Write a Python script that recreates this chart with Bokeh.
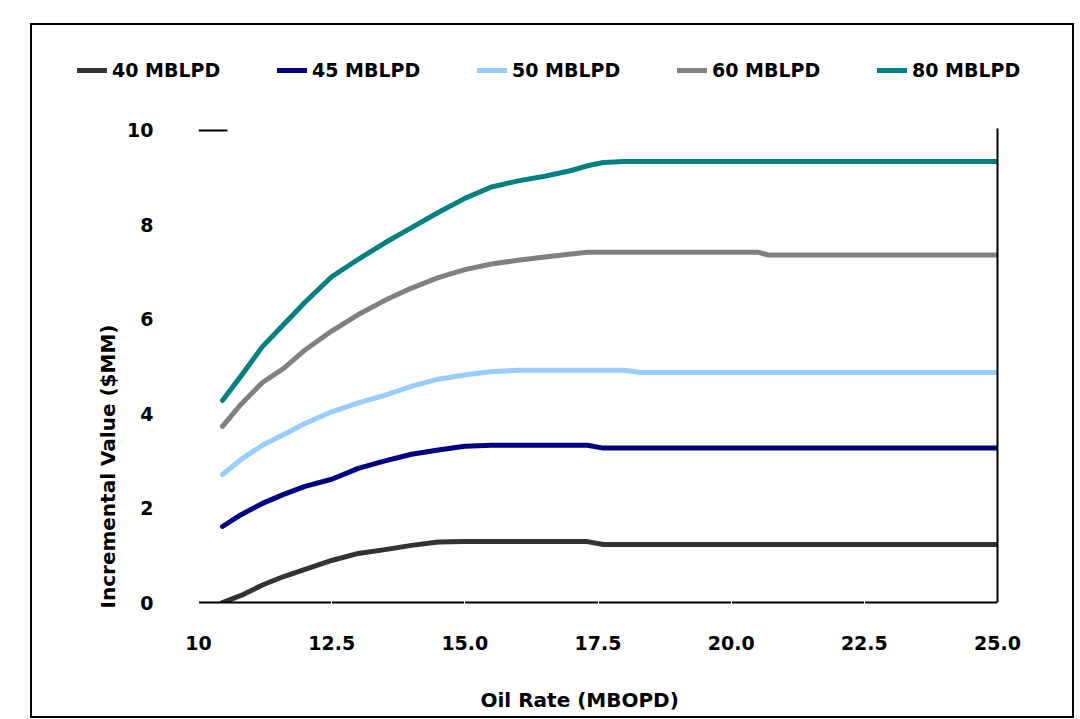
from bokeh.plotting import figure
from bokeh.layouts import column, row
from bokeh.models import (Range1d, FixedTicker, Legend, LegendItem, Title, Label,
                          LinearAxis)
from bokeh.embed import file_html
from bokeh.resources import INLINE

# ---- data ----
oil_rate = [10.45, 10.8, 11.2, 11.6, 12.0, 12.5, 13.0, 13.5, 14.0, 14.5, 15.0,
            15.5, 16.0, 16.5, 17.0, 17.3, 17.6, 18.0, 18.3, 20.5, 20.7, 25.0]
val_40 = [0.00, 0.15, 0.37, 0.55, 0.70, 0.89, 1.04, 1.12, 1.21, 1.28, 1.29,
          1.29, 1.29, 1.29, 1.29, 1.29, 1.23, 1.23, 1.23, 1.23, 1.23, 1.23]
val_45 = [1.61, 1.86, 2.10, 2.29, 2.46, 2.61, 2.84, 3.00, 3.14, 3.23, 3.31,
          3.33, 3.33, 3.33, 3.33, 3.33, 3.27, 3.27, 3.27, 3.27, 3.27, 3.27]
val_50 = [2.71, 3.03, 3.33, 3.56, 3.79, 4.04, 4.23, 4.39, 4.58, 4.73, 4.82,
          4.89, 4.92, 4.92, 4.92, 4.92, 4.92, 4.92, 4.87, 4.87, 4.87, 4.87]
val_60 = [3.73, 4.20, 4.66, 4.96, 5.35, 5.75, 6.10, 6.40, 6.66, 6.88, 7.05,
          7.17, 7.25, 7.32, 7.38, 7.42, 7.42, 7.42, 7.42, 7.42, 7.36, 7.36]
val_80 = [4.28, 4.80, 5.42, 5.89, 6.36, 6.90, 7.27, 7.62, 7.94, 8.26, 8.56,
          8.80, 8.93, 9.03, 9.15, 9.25, 9.32, 9.34, 9.34, 9.34, 9.34, 9.34]

series_names = ["40 MBLPD", "45 MBLPD", "50 MBLPD", "60 MBLPD", "80 MBLPD"]
series_values = [val_40, val_45, val_50, val_60, val_80]
series_colors = ["#333333", "#000080", "#99CCFF", "#808080", "#008080"]

x_ticks = [10, 12.5, 15, 17.5, 20, 22.5, 25]
x_tick_labels = ["10", "12.5", "15.0", "17.5", "20.0", "22.5", "25.0"]
y_ticks = [0, 2, 4, 6, 8, 10]
x_title = "Oil Rate (MBOPD)"
y_title = "Incremental Value ($MM)"

X_MIN, X_MAX, Y_MIN, Y_MAX = 10, 25, 0, 10

FONT = "DejaVu Sans"
W = 1040                      # inner width (inside the 2px border)
H_LEG, H_MAIN, H_TTL = 80, 580, 31
FL, FR, FT, FB = 166, 965, 23, 497   # main frame edges (pixels in main figure)


def bare(height):
    f = figure(width=W, height=height, output_backend="svg", toolbar_location=None,
               x_axis_type=None, y_axis_type=None,
               min_border=0, min_border_left=0, min_border_right=0,
               min_border_top=0, min_border_bottom=0,
               background_fill_color="white", border_fill_color="white")
    f.outline_line_color = None
    f.xgrid.visible = False
    f.ygrid.visible = False
    return f


# ---- main chart ----
p = figure(width=W, height=H_MAIN, output_backend="svg", toolbar_location=None,
           x_range=Range1d(X_MIN, X_MAX), y_range=Range1d(Y_MIN, Y_MAX + 0.04),
           min_border_left=FL, min_border_right=W - FR,
           min_border_top=FT, min_border_bottom=H_MAIN - FB,
           background_fill_color="white", border_fill_color="white")
p.outline_line_color = None
p.xgrid.visible = False
p.ygrid.visible = False

xa = p.xaxis[0]
xa.ticker = FixedTicker(ticks=x_ticks)
xa.major_label_overrides = dict(zip(x_ticks, x_tick_labels))
xa.axis_line_color = "black"
xa.axis_line_width = 2
xa.major_tick_line_color = "white"
xa.major_tick_line_width = 1
xa.major_tick_in = 2
xa.major_tick_out = 2
xa.minor_tick_line_color = None
xa.major_label_standoff = 31
xa.major_label_text_font = FONT
xa.major_label_text_font_style = "bold"
xa.major_label_text_font_size = "19px"
xa.major_label_text_color = "black"

ya = p.yaxis[0]
ya.ticker = FixedTicker(ticks=y_ticks)
ya.axis_line_color = None
ya.major_tick_line_color = None
ya.minor_tick_line_color = None
ya.major_tick_in = 0
ya.major_tick_out = 0
ya.major_label_standoff = 45
ya.major_label_text_font = FONT
ya.major_label_text_font_style = "bold"
ya.major_label_text_font_size = "19px"
ya.major_label_text_color = "black"

# right-hand edge line (axis without ticks or labels)
p.add_layout(LinearAxis(ticker=FixedTicker(ticks=[]), axis_line_color="black",
                        axis_line_width=2, major_tick_line_color=None,
                        minor_tick_line_color=None), "right")

p.add_layout(Title(text=y_title, align="left", offset=-6, standoff=10,
                   text_font=FONT, text_font_style="bold", text_font_size="20px",
                   text_color="black"), "left")

p.ray(x=[X_MIN], y=[Y_MAX], length=29, length_units="screen", angle=0,
      line_color="black", line_width=2)

for vals, col in zip(series_values, series_colors):
    p.line(oil_rate, vals, line_color=col, line_width=5, line_cap="round",
           line_join="round")

# ---- legend strip (same series, drawn out of view; only the legend shows) ----
pl = bare(H_LEG)
pl.x_range = Range1d(0, 1)
pl.y_range = Range1d(100, 101)
items = []
for name, vals, col in zip(series_names, series_values, series_colors):
    r = pl.line(oil_rate, vals, line_color=col, line_width=5, line_cap="round")
    items.append(LegendItem(label=name, renderers=[r]))
legend = Legend(items=items, orientation="horizontal", location=(45, 20),
                padding=0, margin=0, spacing=2, glyph_width=30, glyph_height=30,
                label_width=163, label_height=30, label_standoff=5,
                border_line_color=None, background_fill_alpha=0,
                label_text_font=FONT, label_text_font_style="bold",
                label_text_font_size="19px", label_text_color="black")
pl.add_layout(legend)

# ---- x-axis title strip ----
pt = bare(H_TTL)
pt.x_range = Range1d(0, W)
pt.y_range = Range1d(0, H_TTL)
pt.add_layout(Label(x=448, y=17, text=x_title, text_align="left",
                    text_baseline="middle", text_font=FONT, text_font_style="bold",
                    text_font_size="20px", text_color="black"))

layout = column(row(pl), p, row(pt), spacing=0, margin=(23, 0, 0, 30),
                styles={"border": "2px solid black"})

open("out.html", "w").write(file_html(layout, INLINE))
